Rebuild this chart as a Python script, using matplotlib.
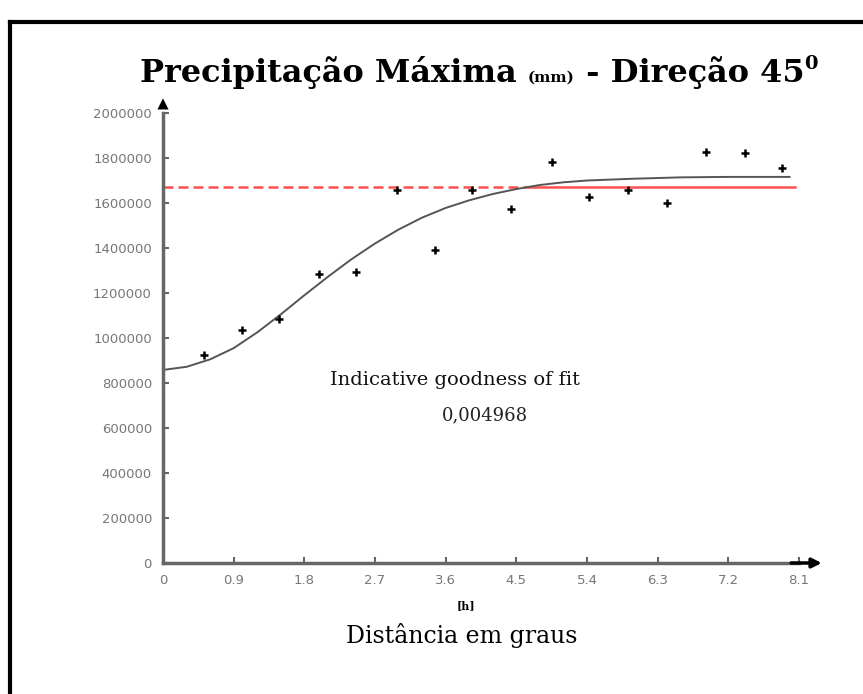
import matplotlib
matplotlib.use("Agg")
import matplotlib.pyplot as plt

# experimental variogram points (lag, value)
lags = [0.52, 1.01, 1.48, 1.99, 2.46, 2.98, 3.46, 3.93, 4.43, 4.95, 5.42, 5.92, 6.42, 6.91, 7.41, 7.88]
gamma = [924000, 1035000, 1084000, 1284000, 1293000, 1658000, 1391000, 1658000,
         1573000, 1782000, 1627000, 1658000, 1600000, 1827000, 1822000, 1756000]

# fitted model curve
model_x = [0.0, 0.3, 0.6, 0.9, 1.2, 1.5, 1.8, 2.1, 2.4, 2.7, 3.0, 3.3, 3.6, 3.9,
           4.2, 4.5, 4.8, 5.1, 5.4, 6.0, 6.6, 7.2, 7.98]
model_y = [858000, 872000, 905000, 955000, 1025000, 1105000, 1190000, 1272000, 1350000,
           1420000, 1482000, 1535000, 1578000, 1612000, 1640000, 1662000, 1680000,
           1692000, 1700000, 1708000, 1714000, 1716000, 1716000]

sill = 1671000
sill_dash_end = 4.72
sill_end = 8.05

xticks = [0, 0.9, 1.8, 2.7, 3.6, 4.5, 5.4, 6.3, 7.2, 8.1]
xticklabels = ["0", "0.9", "1.8", "2.7", "3.6", "4.5", "5.4", "6.3", "7.2", "8.1"]
yticks = [0, 200000, 400000, 600000, 800000, 1000000, 1200000, 1400000, 1600000, 1800000, 2000000]
yticklabels = [str(v) for v in yticks]

fig = plt.figure(figsize=(8.63, 6.94), dpi=100)
ax = fig.add_axes([163 / 863, 131 / 694, 636 / 863, 450 / 694])
ax.set_xlim(0, 8.1)
ax.set_ylim(0, 2000000)

axis_col = "#666666"
for s in ["top", "right"]:
    ax.spines[s].set_visible(False)
for s in ["left", "bottom"]:
    ax.spines[s].set_color(axis_col)
    ax.spines[s].set_linewidth(2.5)

ax.set_xticks(xticks)
ax.set_xticklabels(xticklabels)
ax.set_yticks(yticks)
ax.set_yticklabels(yticklabels)
ax.tick_params(direction="in", length=4, width=1.5, color=axis_col,
               labelcolor="#777777", labelsize=9.5, pad=8)

# arrows at axis ends
ax.annotate("", xy=(0, 2065000), xytext=(0, 1980000), annotation_clip=False,
            arrowprops=dict(arrowstyle="-|>", color="black", lw=0, mutation_scale=20,
                            shrinkA=0, shrinkB=0))
ax.annotate("", xy=(8.39, 0), xytext=(8.0, 0), annotation_clip=False,
            arrowprops=dict(arrowstyle="-|>", color="black", lw=2.5, mutation_scale=14,
                            shrinkA=0, shrinkB=0))

ax.plot([0, sill_dash_end], [sill, sill], color="#ff5050", lw=1.8, ls=(0, (4, 2)), clip_on=False)
ax.plot([sill_dash_end, sill_end], [sill, sill], color="#ff5050", lw=1.8, clip_on=False)
ax.plot(model_x, model_y, color="#555555", lw=1.4, clip_on=False)
ax.plot(lags, gamma, "+", color="black", ms=6, mew=1.8)

ax.text(3.72, 815000, "Indicative goodness of fit", family="DejaVu Serif", fontsize=14,
        ha="center", va="center", color="#111111")
ax.text(4.1, 655000, "0,004968", family="DejaVu Serif", fontsize=13,
        ha="center", va="center", color="#222222")

ax.text(3.86, -190000, "[h]", family="DejaVu Serif", fontsize=8, weight="bold",
        ha="center", va="center")
fig.text(462 / 863, 1 - 635 / 694, "Distância em graus", family="DejaVu Serif",
         fontsize=17, ha="center", va="center")

# title built from pieces of different sizes
fig.canvas.draw()
r = fig.canvas.get_renderer()
pieces = [("Precipitação Máxima ", 23, 0), ("(mm)", 11, 0), (" - Direção 45", 23, 0), ("0", 14, 13)]
x0 = 140 / 863
ybase = 1 - 82 / 694
for txt, size, rise in pieces:
    t = fig.text(x0, ybase + rise / 694, txt, family="DejaVu Serif", weight="bold",
                 fontsize=size, ha="left", va="baseline")
    bb = t.get_window_extent(renderer=r)
    x0 += bb.width / 863

# frame lines at top and left edge of the picture
fig.add_artist(plt.Line2D([10 / 863, 1], [1 - 22 / 694, 1 - 22 / 694], color="black", lw=3))
fig.add_artist(plt.Line2D([10 / 863, 10 / 863], [0, 1 - 22 / 694], color="black", lw=3))

fig.savefig("out.png", dpi=100)
